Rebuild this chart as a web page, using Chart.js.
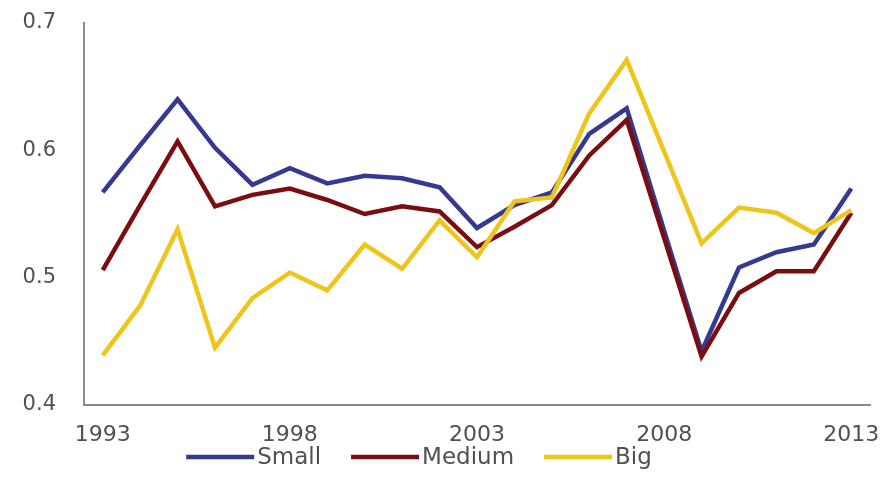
<!DOCTYPE html>
<html>
<head>
<meta charset="utf-8">
<script src="https://cdn.jsdelivr.net/npm/chart.js@4/dist/chart.umd.min.js"></script>
<style>
  html, body { margin: 0; padding: 0; background: #ffffff; }
  #wrap { width: 883px; height: 492px; }
</style>
</head>
<body>
<div id="wrap"><canvas id="chart" width="883" height="492"></canvas></div>
<script>
// Yearly series, 1993–2013
const years = ["1993","1994","1995","1996","1997","1998","1999","2000","2001","2002",
               "2003","2004","2005","2006","2007","2008","2009","2010","2011","2012","2013"];

const small  = [0.567, 0.604, 0.640, 0.602, 0.573, 0.586, 0.574, 0.580, 0.578, 0.571,
                0.539, 0.557, 0.567, 0.613, 0.633, 0.537, 0.442, 0.508, 0.520, 0.526, 0.570];
const medium = [0.506, 0.557, 0.607, 0.556, 0.565, 0.570, 0.561, 0.550, 0.556, 0.552,
                0.524, 0.540, 0.557, 0.596, 0.624, 0.531, 0.438, 0.488, 0.505, 0.505, 0.551];
const big    = [0.439, 0.478, 0.538, 0.445, 0.484, 0.504, 0.490, 0.526, 0.507, 0.545,
                0.516, 0.560, 0.563, 0.629, 0.671, 0.599, 0.527, 0.555, 0.551, 0.535, 0.553];

const yTicks = [0.4, 0.5, 0.6, 0.7];
const xTickEvery = 5;

const textColor = "#505050";
const axisColor = "#8a8a8a";
const fontFamily = "'DejaVu Sans', sans-serif";

function series(label, data, color, order) {
  return {
    label, data,
    borderColor: color,
    backgroundColor: color,
    borderWidth: 4.5,
    pointRadius: 0,
    pointHoverRadius: 0,
    tension: 0,
    fill: false,
    order
  };
}

// Legend row under the axis: a short line sample followed closely by the series name
const lineLegend = {
  id: "lineLegend",
  afterDraw(chart, args, opts) {
    const ctx = chart.ctx;
    const sets = chart.data.datasets;
    ctx.save();
    ctx.font = opts.fontSize + "px " + fontFamily;
    ctx.textBaseline = "middle";
    const widths = sets.map(ds => opts.sample + opts.textGap + ctx.measureText(ds.label).width);
    const total = widths.reduce((a, b) => a + b, 0) + opts.itemGap * (sets.length - 1);
    let x = opts.centerX - total / 2;
    const y = opts.y;
    sets.forEach((ds, i) => {
      ctx.strokeStyle = ds.borderColor;
      ctx.lineWidth = ds.borderWidth;
      ctx.lineCap = "butt";
      ctx.beginPath();
      ctx.moveTo(x, y);
      ctx.lineTo(x + opts.sample, y);
      ctx.stroke();
      ctx.fillStyle = textColor;
      ctx.textAlign = "left";
      ctx.fillText(ds.label, x + opts.sample + opts.textGap, y + 1);
      x += widths[i] + opts.itemGap;
    });
    ctx.restore();
  }
};

new Chart(document.getElementById("chart"), {
  type: "line",
  data: {
    labels: years,
    datasets: [
      series("Small",  small,  "#35398f", 3),
      series("Medium", medium, "#7a0d10", 2),
      series("Big",    big,    "#efc51c", 1)
    ]
  },
  plugins: [lineLegend],
  options: {
    responsive: false,
    animation: false,
    layout: { padding: { top: 23, right: 13, bottom: 44, left: 0 } },
    plugins: {
      tooltip: { enabled: false },
      legend: { display: false },
      lineLegend: { centerX: 419, y: 457, sample: 68, textGap: 3, itemGap: 30, fontSize: 23 }
    },
    scales: {
      x: {
        type: "category",
        offset: true,
        grid: { display: false, drawTicks: false },
        border: { display: true, color: axisColor, width: 2 },
        afterFit(axis) {
          axis.height = 43;
          axis.paddingLeft = 0;
          axis.paddingRight = 0;
        },
        ticks: {
          autoSkip: false,
          maxRotation: 0,
          padding: 17,
          color: textColor,
          font: { family: fontFamily, size: 22 },
          callback: function (value, index) {
            return index % xTickEvery === 0 ? years[index] : "";
          }
        }
      },
      y: {
        min: yTicks[0],
        max: yTicks[yTicks.length - 1],
        grid: { display: false, drawTicks: false },
        border: { display: true, color: axisColor, width: 2 },
        afterBuildTicks(axis) {
          axis.ticks = yTicks.map(v => ({ value: v }));
        },
        afterFit(axis) {
          axis.width = 84;
          axis.paddingTop = 0;
          axis.paddingBottom = 0;
        },
        ticks: {
          padding: 28,
          color: textColor,
          font: { family: fontFamily, size: 21, lineHeight: 1 },
          callback: v => Number(v).toFixed(1)
        }
      }
    }
  }
});
</script>
</body>
</html>
